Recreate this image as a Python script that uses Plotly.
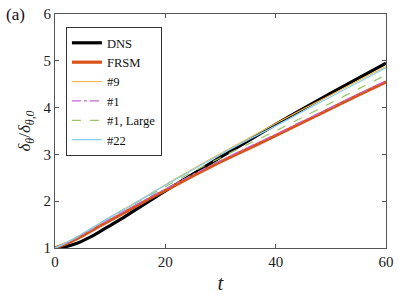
import plotly.graph_objects as go

t = [0, 2, 4, 6, 8, 10, 12, 14, 16, 18, 20, 25, 30, 35, 40, 45, 50, 55, 60]
dns = [1.0, 1.03, 1.10, 1.21, 1.34, 1.48, 1.62, 1.77, 1.92, 2.07, 2.22, 2.58, 2.94, 3.29, 3.64, 3.98, 4.31, 4.63, 4.95]
frsm = [1.0, 1.09, 1.20, 1.33, 1.46, 1.59, 1.72, 1.85, 1.98, 2.11, 2.23, 2.54, 2.84, 3.12, 3.40, 3.69, 3.98, 4.27, 4.55]
m9 = [1.0, 1.11, 1.24, 1.38, 1.52, 1.66, 1.80, 1.93, 2.07, 2.21, 2.35, 2.69, 3.02, 3.34, 3.66, 3.97, 4.27, 4.58, 4.88]
m1 = [1.0, 1.10, 1.22, 1.35, 1.48, 1.62, 1.75, 1.88, 2.01, 2.14, 2.26, 2.57, 2.87, 3.15, 3.43, 3.72, 4.00, 4.29, 4.57]
m1_large = [1.0, 1.11, 1.23, 1.37, 1.51, 1.65, 1.79, 1.92, 2.05, 2.18, 2.31, 2.63, 2.93, 3.22, 3.50, 3.80, 4.10, 4.40, 4.70]
m22 = [1.0, 1.11, 1.24, 1.38, 1.52, 1.66, 1.79, 1.92, 2.06, 2.20, 2.34, 2.67, 3.00, 3.31, 3.61, 3.92, 4.23, 4.54, 4.85]

x_ticks = [0, 20, 40, 60]
y_ticks = [1, 2, 3, 4, 5, 6]

FONT = "Liberation Serif"

fig = go.Figure()
series = [
    ("DNS", dns, "black", 3.2, "solid"),
    ("FRSM", frsm, "#D95319", 3.2, "solid"),
    ("#9", m9, "#F2B84B", 1.2, "solid"),
    ("#1", m1, "#C466D4", 1.2, "dashdot"),
    ("#1, Large", m1_large, "#98C664", 1.2, "dash"),
    ("#22", m22, "#7FCFF5", 1.2, "solid"),
]
for name, y, c, w, d in series:
    fig.add_trace(go.Scatter(x=t, y=y, mode="lines", name=name,
                             line=dict(color=c, width=w, dash=d, shape="spline", smoothing=0.6)))

axis_common = dict(showgrid=False, zeroline=False, showline=True, linecolor="#555555",
                   linewidth=1, mirror="ticks", ticks="inside", ticklen=4, automargin=False,
                   tickcolor="#555555", tickfont=dict(family=FONT, size=15, color="#222222"))

fig.update_layout(
    width=399, height=303,
    margin=dict(l=55, r=13, t=14, b=55),
    paper_bgcolor="white", plot_bgcolor="white",
    font=dict(family=FONT),
    showlegend=True,
    legend=dict(x=0.033, y=0.944, xanchor="left", yanchor="top",
                bordercolor="#333333", borderwidth=1, bgcolor="white",
                font=dict(family=FONT, size=12.6, color="#111111"),
                tracegroupgap=0),
    xaxis=dict(range=[0, 60], tickvals=x_ticks,
               title=dict(text="<i>t</i>", font=dict(family=FONT, size=21, color="#222222"), standoff=6),
               **axis_common),
    yaxis=dict(range=[1, 6], tickvals=y_ticks,
               title=dict(text="<i>δ<sub>θ</sub></i>/<i>δ<sub>θ,0</sub></i>",
                          font=dict(family=FONT, size=17, color="#222222"), standoff=8),
               **axis_common),
    annotations=[dict(text="(a)", x=-0.155, y=1.0, xref="paper", yref="paper",
                      xanchor="left", yanchor="middle", showarrow=False,
                      font=dict(family=FONT, size=17, color="#111111"))],
)

fig.write_html("out.html", config={"displayModeBar": False},
               post_script="document.body.style.margin='0';document.body.style.padding='0';")
